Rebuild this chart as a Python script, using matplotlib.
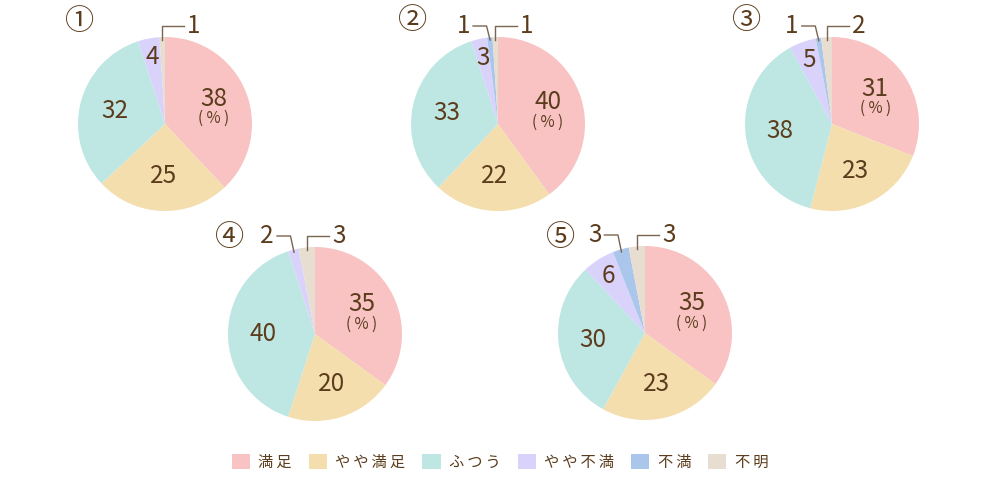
import numpy as np
import matplotlib
matplotlib.use('Agg')
import matplotlib.pyplot as plt
from matplotlib.patches import Patch

plt.rcParams['font.family'] = ['Noto Sans CJK JP', 'DejaVu Sans']

# data
categories = ['満足', 'やや満足', 'ふつう', 'やや不満', '不満', '不明']
colors = ['#f8c3c2', '#f5deae', '#bee7e4', '#d9d2fb', '#abc6eb', '#e8ddd1']
pie_names = ['①', '②', '③', '④', '⑤']
pie1 = [38, 25, 32, 4, 0, 1]
pie2 = [40, 22, 33, 3, 1, 1]
pie3 = [31, 23, 38, 5, 1, 2]
pie4 = [35, 20, 40, 2, 0, 3]
pie5 = [35, 23, 30, 6, 3, 3]
pies = [pie1, pie2, pie3, pie4, pie5]
# slices labelled outside with a leader line (category index -> side)
leaders = [{5: 'right'},
           {4: 'left', 5: 'right'},
           {4: 'left', 5: 'right'},
           {3: 'left', 5: 'right'},
           {4: 'left', 5: 'right'}]

W, H = 1000, 480
R = 87
centers = [(165, 124), (498, 124), (832, 124), (315, 334), (645, 333)]
title_pos = [(80, 22), (413, 21), (747, 21), (230, 238), (561, 238)]

txt_color = '#5b3c1c'
line_color = '#7a6550'
num_size = 17.5

fig = plt.figure(figsize=(10, 4.8), dpi=100)
ax = fig.add_axes([0, 0, 1, 1])

for i, vals in enumerate(pies):
    cx, cy = centers[i][0], H - centers[i][1]
    ax.pie(vals, colors=colors, startangle=90, counterclock=False,
           center=(cx, cy), radius=R, wedgeprops=dict(linewidth=0))
    total = float(sum(vals))
    cum = 0
    top = cy + R + 11
    for k, v in enumerate(vals):
        if v == 0:
            continue
        mid = np.deg2rad(90 - (cum + v / 2) / total * 360)
        cum += v
        if k in leaders[i]:
            ex = cx + 0.97 * R * np.cos(mid)
            ey = cy + 0.97 * R * np.sin(mid)
            if leaders[i][k] == 'right':
                ax.plot([ex, ex, ex + 22], [ey, top, top], color=line_color, lw=1.0)
                ax.text(ex + 25, top, str(v), ha='left', va='center',
                        fontsize=num_size, color=txt_color)
            else:
                ax.plot([ex, ex - 3.5, ex - 17], [ey, top, top], color=line_color, lw=1.0)
                ax.text(ex - 20, top, str(v), ha='right', va='center',
                        fontsize=num_size, color=txt_color)
            continue
        rr = 0.78 if v < 10 else 0.6
        tx = cx + rr * R * np.cos(mid)
        ty = cy + rr * R * np.sin(mid)
        if k == 0:
            ax.text(tx, ty + 6, str(v), ha='center', va='center',
                    fontsize=num_size, color=txt_color)
            ax.text(tx, ty - 14, '( % )', ha='center', va='center',
                    fontsize=11, color=txt_color)
        else:
            ax.text(tx, ty, str(v), ha='center', va='center',
                    fontsize=num_size, color=txt_color)
    ax.text(title_pos[i][0], H - title_pos[i][1], pie_names[i], ha='center',
            va='center', fontsize=21, color=txt_color)

handles = [Patch(facecolor=c, edgecolor='none', label='\u2009'.join(l))
           for c, l in zip(colors, categories)]
fig.legend(handles=handles, loc='center', bbox_to_anchor=(0.5, 1 - 462 / H),
           ncol=6, frameon=False, fontsize=11, labelcolor=txt_color,
           handlelength=1.2, handleheight=1.2, handletextpad=0.55,
           columnspacing=1.1)

ax.set_xlim(0, W)
ax.set_ylim(0, H)
ax.set_aspect('equal')
ax.axis('off')

fig.savefig('out.png', dpi=100)
